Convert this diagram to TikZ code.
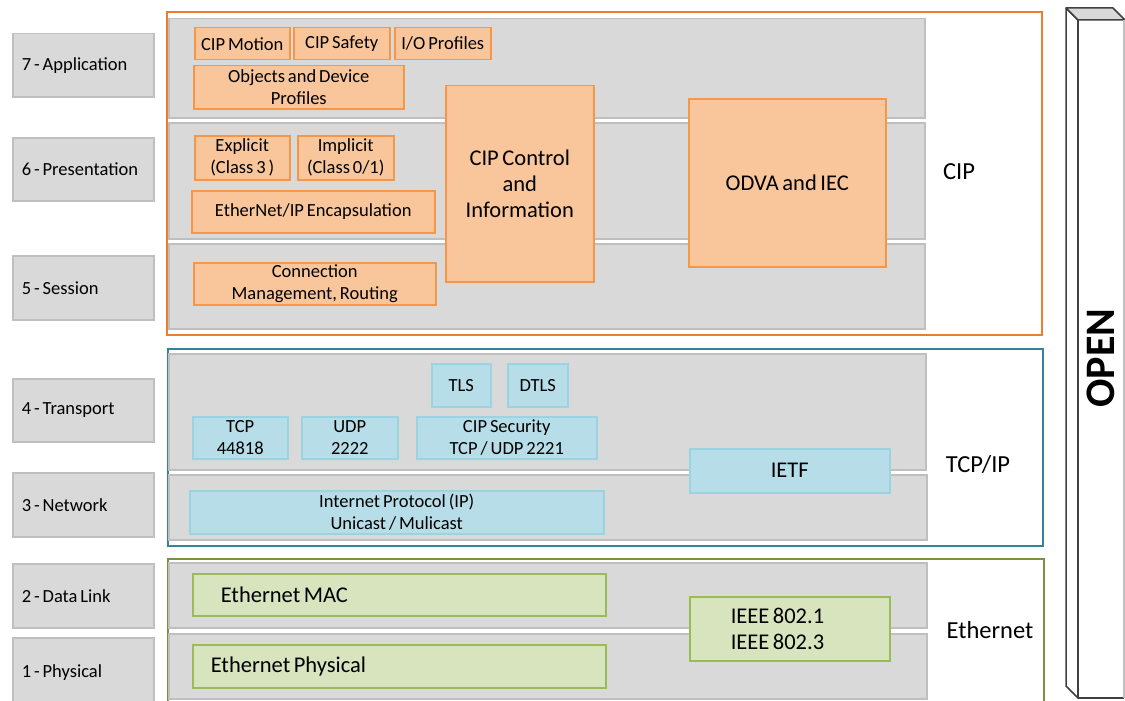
\documentclass[tikz,border=0pt]{standalone}
\usepackage{fontspec}
\setmainfont{Carlito}[WordSpace=0.7]
\definecolor{grayfill}{HTML}{D9D9D9}
\definecolor{grayline}{HTML}{BFBFBF}
\definecolor{ofill}{HTML}{F9C69C}
\definecolor{oline}{HTML}{F79646}
\definecolor{oframe}{HTML}{ED7D31}
\definecolor{bfill}{HTML}{B7DEE8}
\definecolor{bline}{HTML}{9CD3E0}
\definecolor{bframe}{HTML}{31849B}
\definecolor{gfill}{HTML}{D7E4BD}
\definecolor{gline}{HTML}{9BBB59}
\definecolor{gframe}{HTML}{77933C}
\definecolor{pillar}{HTML}{404040}
\tikzset{
  base/.style={anchor=north west, inner sep=0pt, align=center, font=\fontsize{18.5}{22}\selectfont},
  layerbox/.style={base, draw=grayline, fill=grayfill, line width=1.5pt, align=flush left, inner xsep=9pt},
  band/.style={base, draw=grayline, fill=grayfill, line width=1.5pt},
  obox/.style={base, draw=oline, fill=ofill, line width=1.5pt},
  bbox/.style={base, draw=bline, fill=bfill, line width=1.5pt},
  gbox/.style={base, draw=gline, fill=gfill, line width=1.5pt},
  big/.style={font=\fontsize{22.5}{26}\selectfont},
  side/.style={font=\fontsize{24.5}{28}\selectfont},
  frame/.style={base, line width=2pt},
  pillarline/.style={draw=pillar, line width=1.5pt, line join=round},
}
\newcommand\mybox[6]{\node[#1, minimum width={(#5-#3)*1pt}, minimum height={(#6-#4)*1pt}] (#2) at (#3,#4)}
\begin{document}
\begin{tikzpicture}[x=1pt,y=-1pt]
\useasboundingbox (0,0) rectangle (1125,701);
% frames
\mybox{frame, draw=oframe}{cipframe}{166}{11}{1041}{334} {};
\mybox{frame, draw=bframe}{tcpframe}{167}{348}{1042}{545} {};
\mybox{frame, draw=gframe}{ethframe}{167}{558}{1043}{710} {};
% bands
\mybox{band}{b7}{168}{18}{924}{117} {};
\mybox{band}{b6}{168}{122}{924}{238} {};
\mybox{band}{b5}{168}{243}{924}{328} {};
\mybox{band}{b4}{168}{353}{925}{469} {};
\mybox{band}{b3}{168}{474}{926}{539} {};
\mybox{band}{b2}{168}{562}{926}{627} {};
\mybox{band}{b1}{168}{633}{926}{698} {};
% layer labels
\mybox{layerbox, text width=123pt}{l7}{12}{33}{153}{96} {7 - Application};
\mybox{layerbox, text width=123pt}{l6}{12}{137}{153}{200} {6 - Presentation};
\mybox{layerbox, text width=123pt}{l5}{12}{255}{153}{319} {5 - Session};
\mybox{layerbox, text width=123pt}{l4}{12}{378}{153}{441} {4 - Transport};
\mybox{layerbox, text width=123pt}{l3}{12}{472}{153}{536} {3 - Network};
\mybox{layerbox, text width=123pt}{l2}{12}{563}{153}{627} {2 - Data Link};
\mybox{layerbox, text width=123pt}{l1}{12}{637}{153}{707} {1 - Physical};
% CIP boxes
\mybox{obox}{motion}{194}{27}{289}{59} {CIP Motion};
\mybox{obox}{safety}{293}{27}{389}{59} {CIP Safety};
\mybox{obox}{iop}{394}{27}{490}{59} {I/O Profiles};
\mybox{obox}{objects}{193}{65}{403}{108} {Objects and Device\\Profiles};
\mybox{obox}{explicit}{194}{135}{289}{179} {Explicit\\(Class 3 )};
\mybox{obox}{implicit}{297}{135}{393}{179} {Implicit\\(Class 0/1)};
\mybox{obox}{encap}{191}{190}{434}{232} {EtherNet/IP Encapsulation};
\mybox{obox}{connmgmt}{193}{262}{435}{304} {Connection\\Management, Routing};
\mybox{obox, big}{cipctrl}{445}{85}{593}{281} {CIP Control\\and\\Information};
\mybox{obox, big}{odva}{688}{98}{885}{266} {ODVA and IEC};
% TCP/IP boxes
\mybox{bbox}{tls}{431}{363}{490}{406} {TLS};
\mybox{bbox}{dtls}{507}{363}{567}{406} {DTLS};
\mybox{bbox}{tcp}{192}{416}{287}{458} {TCP\\44818};
\mybox{bbox}{udp}{301}{416}{397}{458} {UDP\\2222};
\mybox{bbox}{cipsec}{416}{416}{596}{458} {CIP Security\\TCP / UDP 2221};
\mybox{bbox}{ip}{189}{490}{603}{533} {Internet Protocol (IP)\\Unicast / Mulicast};
\mybox{bbox, big}{ietf}{689}{448}{889}{492} {IETF};
% Ethernet boxes
\mybox{gbox, big, align=flush left, inner xsep=28pt, text width=357pt}{mac}{192}{573}{605}{615} {Ethernet MAC};
\mybox{gbox, big, align=flush left, inner xsep=18pt, text width=377pt}{phy}{192}{644}{605}{687} {Ethernet Physical};
\mybox{gbox, big, align=flush left, inner xsep=41pt, text width=118pt}{ieee}{689}{596}{889}{660} {IEEE 802.1\\IEEE 802.3};
% side labels
\node[side] (ciplbl) at (959,172) {CIP};
\node[side] (tcplbl) at (978,465) {TCP/IP};
\node[side] (ethlbl) at (990,630) {Ethernet};
% OPEN pillar
\filldraw[pillarline, fill=white] (1066,8) -- (1078,20) -- (1078,698) -- (1066,686) -- cycle;
\filldraw[pillarline, fill=grayfill] (1066,8) -- (1113,8) -- (1125,20) -- (1078,20) -- cycle;
\draw[pillarline] (1078,20) -- (1078,698) -- (1124,698);
\draw[grayline, line width=1.5pt] (1124,20) -- (1124,698);
\node[rotate=90, font=\fontsize{42}{42}\selectfont\bfseries] (open) at (1101,358) {OPEN};
\end{tikzpicture}
\end{document}
